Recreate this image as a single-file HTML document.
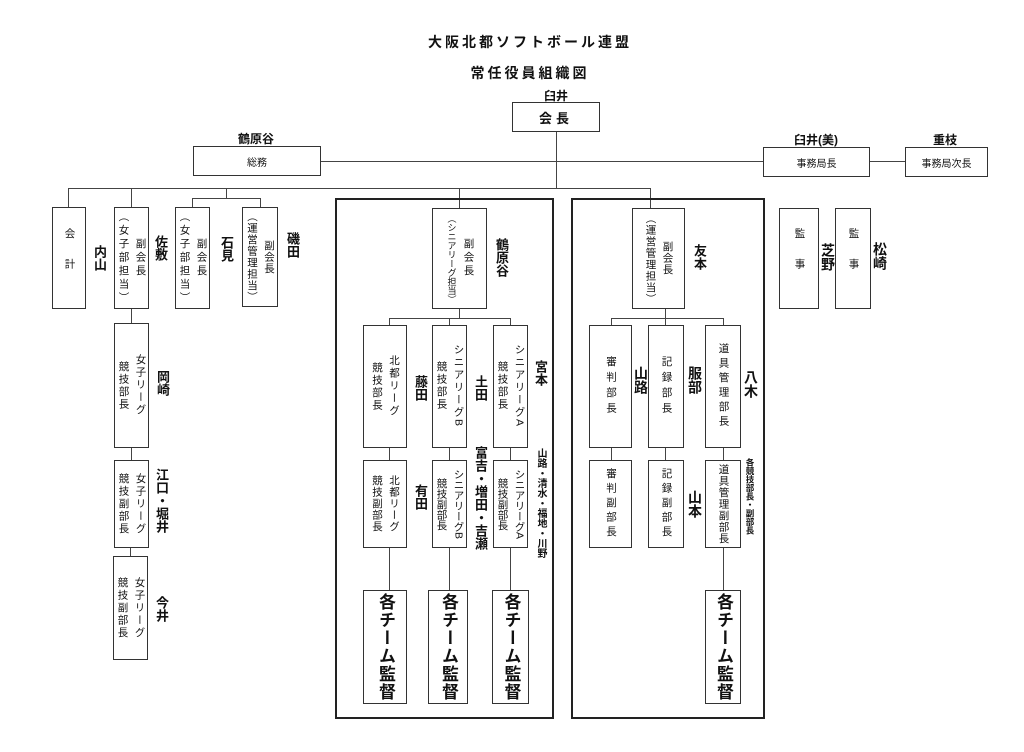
<!DOCTYPE html>
<html><head><meta charset="utf-8">
<style>
body{margin:0;background:#fff;}
#c{position:relative;width:1024px;height:752px;overflow:hidden;background:#fff;font-family:"Liberation Sans","Noto Sans CJK JP",sans-serif;color:#111;}
.b{position:absolute;border:1.3px solid #333;box-sizing:border-box;display:flex;align-items:center;justify-content:center;background:#fff;}
.v{writing-mode:vertical-rl;font-size:10.5px;line-height:17px;letter-spacing:2px;white-space:nowrap;text-align:center;}
.l{position:absolute;writing-mode:vertical-rl;font-weight:bold;font-size:13px;line-height:14px;white-space:nowrap;}
.hl{position:absolute;height:1.3px;background:#444;}
.vl{position:absolute;width:1.3px;background:#444;}
.f{position:absolute;border:2px solid #222;box-sizing:border-box;}
.t{position:absolute;font-weight:bold;font-size:12px;text-align:center;white-space:nowrap;}
.big{writing-mode:vertical-rl;font-size:17px;font-weight:bold;letter-spacing:1px;white-space:nowrap;line-height:20px;}
</style></head><body><div id="c">
<div class="t" style="left:380px;top:32px;width:300px;font-size:14px;letter-spacing:3px">大阪北都ソフトボール連盟</div>
<div class="t" style="left:380px;top:63px;width:300px;font-size:14px;letter-spacing:3px">常任役員組織図</div>
<div class="t" style="left:530px;top:87px;width:52px">臼井</div>
<div class="b" style="left:512px;top:102px;width:88px;height:30px;font-weight:bold;font-size:13px;letter-spacing:4px">会長</div>
<div class="t" style="left:220px;top:130px;width:72px">鶴原谷</div>
<div class="b" style="left:193px;top:146px;width:128px;height:30px;font-size:10px">総務</div>
<div class="t" style="left:780px;top:131px;width:72px">臼井(美)</div>
<div class="b" style="left:763px;top:147px;width:107px;height:30px;font-size:10px">事務局長</div>
<div class="t" style="left:920px;top:131px;width:50px">重枝</div>
<div class="b" style="left:905px;top:147px;width:83px;height:30px;font-size:10px">事務局次長</div>
<div class="hl" style="left:321px;top:161px;width:442px"></div>
<div class="hl" style="left:870px;top:161px;width:35px"></div>
<div class="vl" style="left:556px;top:132px;height:57px"></div>
<div class="hl" style="left:68px;top:188px;width:583px"></div>
<div class="vl" style="left:68px;top:188px;height:19px"></div>
<div class="vl" style="left:131px;top:188px;height:19px"></div>
<div class="vl" style="left:226px;top:188px;height:10px"></div>
<div class="hl" style="left:192px;top:198px;width:69px"></div>
<div class="vl" style="left:192px;top:198px;height:9px"></div>
<div class="vl" style="left:260px;top:198px;height:9px"></div>
<div class="vl" style="left:459px;top:188px;height:20px"></div>
<div class="vl" style="left:650px;top:188px;height:20px"></div>
<!-- left -->
<div class="b" style="left:52px;top:207px;width:34px;height:102px"><div class="v" style="letter-spacing:20px">会計</div></div>
<div class="l" style="left:92px;top:245px">内山</div>
<div class="b" style="left:114px;top:207px;width:35px;height:102px"><div class="v" style="letter-spacing:3px">副会長<br>（女子部担当）</div></div>
<div class="l" style="left:153px;top:235px">佐敷</div>
<div class="b" style="left:175px;top:207px;width:35px;height:102px"><div class="v" style="letter-spacing:3px">副会長<br>（女子部担当）</div></div>
<div class="l" style="left:219px;top:236px">石見</div>
<div class="b" style="left:242px;top:207px;width:36px;height:100px"><div class="v" style="letter-spacing:1px">副会長<br>（運営管理担当）</div></div>
<div class="l" style="left:285px;top:232px">磯田</div>
<div class="vl" style="left:131px;top:309px;height:14px"></div>
<div class="b" style="left:114px;top:323px;width:35px;height:125px"><div class="v">女子リーグ<br>競技部長</div></div>
<div class="l" style="left:155px;top:370px">岡崎</div>
<div class="vl" style="left:131px;top:448px;height:12px"></div>
<div class="b" style="left:114px;top:460px;width:35px;height:88px"><div class="v">女子リーグ<br>競技副部長</div></div>
<div class="l" style="left:154px;top:468px">江口・堀井</div>
<div class="vl" style="left:130px;top:548px;height:8px"></div>
<div class="b" style="left:113px;top:556px;width:35px;height:104px"><div class="v">女子リーグ<br>競技副部長</div></div>
<div class="l" style="left:154px;top:596px">今井</div>
<!-- center frame -->
<div class="f" style="left:335px;top:198px;width:219px;height:521px"></div>
<div class="b" style="left:432px;top:208px;width:55px;height:101px"><div class="v" style="letter-spacing:3px">副会長<br><span style="font-size:9px;letter-spacing:0">（シニアリーグ担当）</span></div></div>
<div class="l" style="left:494px;top:238px">鶴原谷</div>
<div class="vl" style="left:459px;top:309px;height:9px"></div>
<div class="hl" style="left:389px;top:318px;width:122px"></div>
<div class="vl" style="left:389px;top:318px;height:7px"></div>
<div class="vl" style="left:449px;top:318px;height:7px"></div>
<div class="vl" style="left:510px;top:318px;height:7px"></div>
<div class="b" style="left:363px;top:325px;width:44px;height:123px"><div class="v">北都リーグ<br>競技部長</div></div>
<div class="b" style="left:432px;top:325px;width:35px;height:123px"><div class="v">シニアリーグB<br>競技部長</div></div>
<div class="b" style="left:493px;top:325px;width:35px;height:123px"><div class="v">シニアリーグA<br>競技部長</div></div>
<div class="l" style="left:413px;top:375px">藤田</div>
<div class="l" style="left:473px;top:375px">土田</div>
<div class="l" style="left:533px;top:360px">宮本</div>
<div class="vl" style="left:389px;top:448px;height:12px"></div>
<div class="vl" style="left:449px;top:448px;height:12px"></div>
<div class="vl" style="left:510px;top:448px;height:12px"></div>
<div class="b" style="left:363px;top:460px;width:44px;height:88px"><div class="v" style="letter-spacing:1px">北都リーグ<br>競技副部長</div></div>
<div class="b" style="left:432px;top:460px;width:35px;height:88px"><div class="v" style="letter-spacing:0">シニアリーグB<br>競技副部長</div></div>
<div class="b" style="left:493px;top:460px;width:35px;height:88px"><div class="v" style="letter-spacing:0">シニアリーグA<br>競技副部長</div></div>
<div class="l" style="left:413px;top:484px">有田</div>
<div class="l" style="left:473px;top:446px">富吉・増田・吉瀬</div>
<div class="l" style="left:535px;top:448px;font-size:10px;line-height:11px">山路・清水・福地・川野</div>
<div class="vl" style="left:389px;top:548px;height:42px"></div>
<div class="vl" style="left:449px;top:548px;height:42px"></div>
<div class="vl" style="left:510px;top:548px;height:42px"></div>
<div class="b" style="left:363px;top:590px;width:44px;height:114px"><div class="big">各チーム監督</div></div>
<div class="b" style="left:428px;top:590px;width:40px;height:114px"><div class="big">各チーム監督</div></div>
<div class="b" style="left:492px;top:590px;width:37px;height:114px"><div class="big">各チーム監督</div></div>
<!-- right frame -->
<div class="f" style="left:571px;top:198px;width:194px;height:521px"></div>
<div class="b" style="left:632px;top:208px;width:53px;height:101px"><div class="v" style="letter-spacing:1px">副会長<br>（運営管理担当）</div></div>
<div class="l" style="left:692px;top:244px">友本</div>
<div class="vl" style="left:665px;top:309px;height:9px"></div>
<div class="hl" style="left:611px;top:318px;width:113px"></div>
<div class="vl" style="left:611px;top:318px;height:7px"></div>
<div class="vl" style="left:665px;top:318px;height:7px"></div>
<div class="vl" style="left:723px;top:318px;height:7px"></div>
<div class="b" style="left:589px;top:325px;width:43px;height:123px"><div class="v" style="letter-spacing:5px">審判部長</div></div>
<div class="b" style="left:648px;top:325px;width:36px;height:123px"><div class="v" style="letter-spacing:5px">記録部長</div></div>
<div class="b" style="left:705px;top:325px;width:36px;height:123px"><div class="v" style="letter-spacing:4px">道具管理部長</div></div>
<div class="l" style="left:634px;top:366px;font-size:14px">山路</div>
<div class="l" style="left:688px;top:366px;font-size:14px">服部</div>
<div class="l" style="left:744px;top:370px;font-size:14px">八木</div>
<div class="vl" style="left:611px;top:448px;height:12px"></div>
<div class="vl" style="left:665px;top:448px;height:12px"></div>
<div class="vl" style="left:723px;top:448px;height:12px"></div>
<div class="b" style="left:589px;top:460px;width:43px;height:88px"><div class="v" style="letter-spacing:4px">審判副部長</div></div>
<div class="b" style="left:648px;top:460px;width:36px;height:88px"><div class="v" style="letter-spacing:4px">記録副部長</div></div>
<div class="b" style="left:705px;top:460px;width:36px;height:88px"><div class="v" style="letter-spacing:1px">道具管理副部長</div></div>
<div class="l" style="left:688px;top:490px;font-size:14px">山本</div>
<div class="l" style="left:745px;top:458px;font-size:8.5px;line-height:9px">各競技部長・副部長</div>
<div class="vl" style="left:723px;top:548px;height:42px"></div>
<div class="b" style="left:705px;top:590px;width:36px;height:114px"><div class="big">各チーム監督</div></div>
<!-- auditors -->
<div class="b" style="left:779px;top:208px;width:40px;height:101px"><div class="v" style="letter-spacing:20px">監事</div></div>
<div class="l" style="left:821px;top:243px;font-size:14px">芝野</div>
<div class="b" style="left:835px;top:208px;width:36px;height:101px"><div class="v" style="letter-spacing:20px">監事</div></div>
<div class="l" style="left:873px;top:242px;font-size:14px">松崎</div>
</div></body></html>
